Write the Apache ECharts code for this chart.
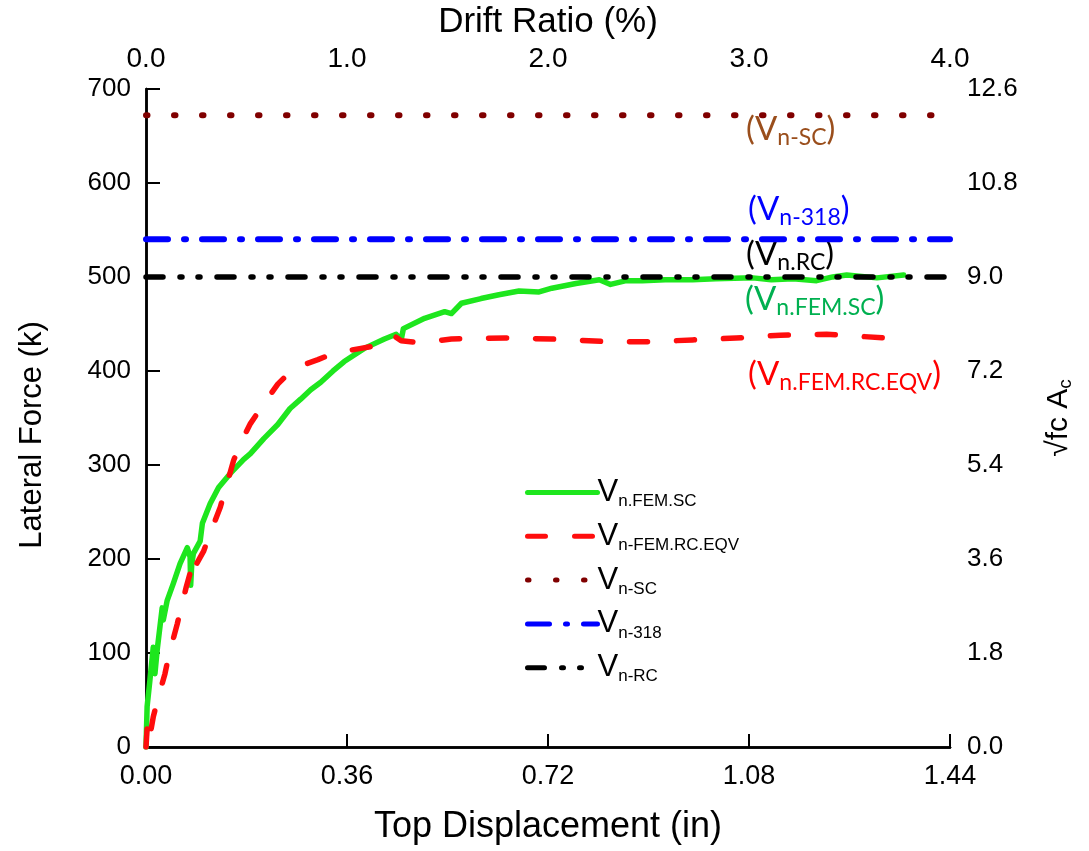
<!DOCTYPE html>
<html><head><meta charset="utf-8">
<script src="https://cdn.jsdelivr.net/npm/echarts@6/dist/echarts.min.js"></script>
<style>html,body{margin:0;padding:0;background:#fff}#c{width:1089px;height:851px}</style>
</head><body><div id="c"></div>
<script>
// ---- data ----
const dispTicks = [0, 0.36, 0.72, 1.08, 1.44];          // Top Displacement (in)
const driftTicks = [0, 1, 2, 3, 4];                       // Drift Ratio (%)
const forceRange = [0, 700];                              // Lateral Force (k)
const rootRange = [0, 12.6];                              // sqrt(fc) Ac
const dispRange = [0, 1.44];

// V n.FEM.SC  [displacement in, force k]
const femSC = [[0,0],[0.002,43],[0.007,71],[0.013,106],[0.016,78],[0.020,103],[0.029,148],[0.031,135],[0.038,156],[0.049,174],[0.061,195],[0.074,212],[0.079,202],[0.080,172],[0.082,195],[0.085,206],[0.097,219],[0.101,238],[0.115,259],[0.130,276],[0.151,291],[0.175,306],[0.187,312],[0.211,328],[0.236,343],[0.258,360],[0.277,370],[0.295,380],[0.313,388],[0.335,400],[0.355,410],[0.391,424],[0.427,434],[0.448,439],[0.457,433],[0.461,445],[0.499,456],[0.535,463],[0.547,461],[0.565,472],[0.600,477],[0.632,481],[0.668,485],[0.704,484],[0.727,488],[0.770,493],[0.812,497],[0.832,492],[0.860,496],[0.889,496],[0.930,497],[0.979,497],[1.020,498],[1.087,499],[1.120,497],[1.159,498],[1.201,496],[1.230,500],[1.255,502],[1.309,499],[1.357,502]];
// V n-FEM.RC.EQV
const femRCEQV = [[0,0],[0.002,20],[0.004,5],[0.008,15],[0.013,32],[0.022,53],[0.034,78],[0.040,95],[0.047,111],[0.056,131],[0.065,153],[0.072,170],[0.079,185],[0.092,178],[0.086,190],[0.103,208],[0.118,232],[0.133,255],[0.157,305],[0.175,330],[0.187,344],[0.211,365],[0.236,386],[0.265,403],[0.308,412],[0.337,419],[0.385,424],[0.421,428],[0.445,437],[0.457,432],[0.493,430],[0.547,434],[0.643,435],[0.727,434],[0.830,431],[0.902,431],[0.979,433],[1.057,435],[1.136,438],[1.219,439],[1.327,435]];
const vnSC = 672;
const vn318 = 540;
const vnRC = 500;

const seriesNames = ['Vn.FEM.SC', 'Vn-FEM.RC.EQV', 'Vn-SC', 'Vn-318', 'Vn-RC'];
const legendSubs = ['n.FEM.SC', 'n-FEM.RC.EQV', 'n-SC', 'n-318', 'n-RC'];

// ---- chart ----
const SANS = "'Liberation Sans', Arial, sans-serif";
const ANNO = "Lato, 'Open Sans', sans-serif";
const chart = echarts.init(document.getElementById('c'), null, {renderer: 'canvas'});

function hLine(v) { return dispRange.map(x => [x, v]); }

function anno(sub, color, left, top) {
  return {
    type: 'text', left: left, top: top, silent: true,
    style: {
      text: '{b|(V}{s|' + sub + '}{b|)}',
      fill: color,
      rich: {
        b: {fontSize: 33, fontFamily: ANNO, lineHeight: 36, fill: color},
        s: {fontSize: 23, fontFamily: ANNO, lineHeight: 20, padding: [16, 0, 0, 0], fill: color}
      }
    }
  };
}

const axisLine = {show: true, lineStyle: {color: '#000', width: 2.5}};
const option = {
  animation: false,
  backgroundColor: '#fff',
  grid: {left: 146, right: 139, top: 87, bottom: 104, containLabel: false},
  xAxis: [
    {
      type: 'value', position: 'bottom', min: dispRange[0], max: dispRange[1], interval: 0.36,
      name: 'Top Displacement (in)', nameLocation: 'middle', nameGap: 62,
      nameTextStyle: {fontFamily: SANS, fontSize: 36, color: '#000'},
      axisLine: axisLine,
      axisTick: {show: true, inside: true, length: 13, lineStyle: {color: '#000', width: 2}},
      axisLabel: {fontFamily: SANS, fontSize: 27, color: '#000', margin: 16, formatter: v => v.toFixed(2)},
      splitLine: {show: false}
    },
    {
      type: 'value', position: 'top', min: driftTicks[0], max: driftTicks[driftTicks.length - 1], interval: 1,
      name: 'Drift Ratio (%)', nameLocation: 'middle', nameGap: 42,
      nameTextStyle: {fontFamily: SANS, fontSize: 35, color: '#000'},
      axisLine: axisLine,
      axisTick: {show: false},
      axisLabel: {fontFamily: SANS, fontSize: 28, color: '#000', margin: 16, formatter: v => v.toFixed(1)},
      splitLine: {show: false}
    }
  ],
  yAxis: [
    {
      type: 'value', position: 'left', min: forceRange[0], max: forceRange[1], interval: 100,
      name: 'Lateral Force (k)', nameLocation: 'middle', nameGap: 98,
      nameTextStyle: {fontFamily: SANS, fontSize: 31, color: '#000', padding: [0, 34, 0, 0]},
      axisLine: axisLine,
      axisTick: {show: true, inside: true, length: 14, lineStyle: {color: '#000', width: 2}},
      axisLabel: {fontFamily: SANS, fontSize: 26, color: '#000', margin: 15},
      splitLine: {show: false}
    },
    {
      type: 'value', position: 'right', min: rootRange[0], max: rootRange[1], interval: 1.8,
      name: '{a|√fc A}{s|c}', nameLocation: 'middle', nameGap: 92,
      nameTextStyle: {
        fontFamily: SANS, fontSize: 30, color: '#000',
        rich: {
          a: {fontFamily: SANS, fontSize: 30, lineHeight: 34, color: '#000'},
          s: {fontFamily: SANS, fontSize: 19, lineHeight: 20, padding: [14, 0, 0, 0], color: '#000'}
        }
      },
      axisLine: axisLine,
      axisTick: {show: false},
      axisLabel: {fontFamily: SANS, fontSize: 26, color: '#000', margin: 17, formatter: v => v.toFixed(1)},
      splitLine: {show: false}
    }
  ],
  legend: {
    orient: 'vertical', left: 520, top: 470, itemWidth: 70, itemHeight: 14, itemGap: 8.8,
    data: seriesNames,
    formatter: name => '{v|V}{s|' + legendSubs[seriesNames.indexOf(name)] + '}',
    itemStyle: {opacity: 0},
    lineStyle: {width: 5, cap: 'round'},
    textStyle: {
      color: '#000', padding: [0, 0, 0, -5],
      rich: {
        v: {fontFamily: SANS, fontSize: 31, lineHeight: 36, color: '#000'},
        s: {fontFamily: SANS, fontSize: 17, lineHeight: 18, padding: [18, 0, 0, 0], color: '#000'}
      }
    },
    selectedMode: false
  },
  series: [
    {
      name: seriesNames[0], type: 'line', data: femSC, xAxisIndex: 0, yAxisIndex: 0,
      symbol: 'none', showSymbol: false, silent: true,
      lineStyle: {color: '#1ee61e', width: 5.5, cap: 'round', join: 'round'},
      itemStyle: {color: '#1ee61e'}
    },
    {
      name: seriesNames[1], type: 'line', data: femRCEQV, xAxisIndex: 0, yAxisIndex: 0,
      symbol: 'none', showSymbol: false, silent: true,
      lineStyle: {color: '#ff0d0d', width: 5.5, type: [18, 29], cap: 'round', join: 'round'},
      itemStyle: {color: '#ff0d0d'}
    },
    {
      name: seriesNames[2], type: 'line', data: hLine(vnSC), xAxisIndex: 0, yAxisIndex: 0,
      symbol: 'none', showSymbol: false, silent: true,
      lineStyle: {color: '#800000', width: 6, type: [1.5, 26.5], cap: 'round'},
      itemStyle: {color: '#800000'}
    },
    {
      name: seriesNames[3], type: 'line', data: hLine(vn318), xAxisIndex: 0, yAxisIndex: 0,
      symbol: 'none', showSymbol: false, silent: true,
      lineStyle: {color: '#0000ff', width: 6, type: [22, 16, 2, 16], cap: 'round'},
      itemStyle: {color: '#0000ff'}
    },
    {
      name: seriesNames[4], type: 'line', data: hLine(vnRC), xAxisIndex: 0, yAxisIndex: 0,
      symbol: 'none', showSymbol: false, silent: true,
      lineStyle: {color: '#000000', width: 5.5, type: [17, 17, 2, 16, 2, 17], cap: 'round'},
      itemStyle: {color: '#000000'}
    }
  ],
  graphic: [
    anno('n-SC', '#9a4e1c', 746, 110),
    anno('n-318', '#0000ff', 748, 190),
    anno('n.RC', '#000000', 746, 235),
    anno('n.FEM.SC', '#00b050', 745, 280),
    anno('n.FEM.RC.EQV', '#ff0000', 748, 355)
  ]
};
chart.setOption(option);
</script></body></html>
